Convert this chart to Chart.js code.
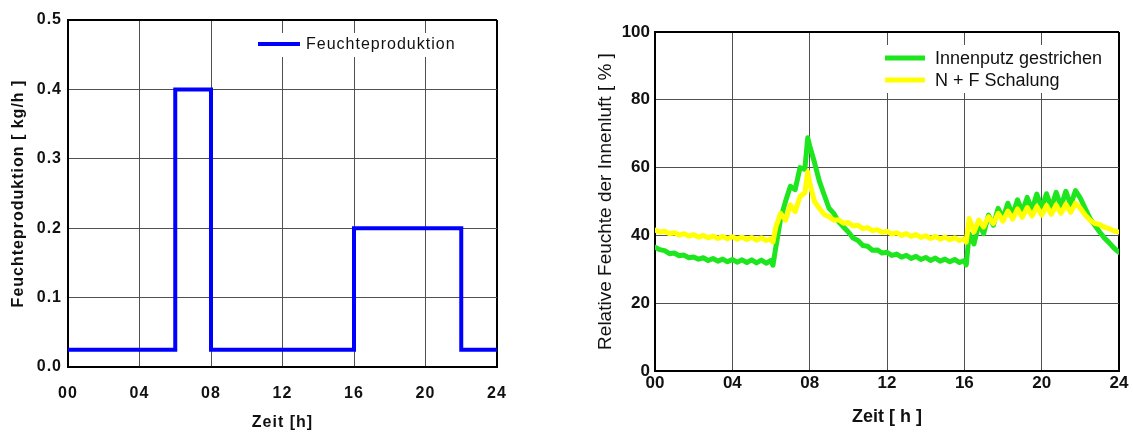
<!DOCTYPE html>
<html>
<head>
<meta charset="utf-8">
<script src="https://cdn.jsdelivr.net/npm/chart.js@4.4.1/dist/chart.umd.min.js"></script>
<style>
  body { margin: 0; background: #fff; }
  #wrap { position: relative; width: 1133px; height: 432px; }
  #leftChart { position: absolute; left: 0; top: 0; }
  #rightChart { position: absolute; left: 540px; top: 0; }
</style>
</head>
<body>
<div id="wrap">
  <canvas id="leftChart" width="540" height="432"></canvas>
  <canvas id="rightChart" width="593" height="432"></canvas>
</div>
<script>
// Feuchteproduktion (step profile)
const stepHours = [0, 6, 8, 16, 22, 24];
const production = [0.025, 0.4, 0.025, 0.2, 0.025, 0.025];

// Relative Feuchte der Innenluft
const hours = [
  0, 0.25, 0.5, 0.75, 1, 1.25, 1.5, 1.75, 2, 2.25, 2.5, 2.75, 3, 3.25, 3.5, 3.75,
  4, 4.25, 4.5, 4.75, 5, 5.25, 5.5, 5.75, 6, 6.1, 6.25, 6.5, 6.75, 7, 7.25, 7.5, 7.75, 7.9,
  8, 8.25, 8.5, 8.75, 9, 9.25, 9.5, 9.75, 10, 10.25, 10.5, 10.75, 11, 11.25, 11.5, 11.75,
  12, 12.25, 12.5, 12.75, 13, 13.25, 13.5, 13.75, 14, 14.25, 14.5, 14.75, 15, 15.25, 15.5, 15.75,
  16, 16.1, 16.25, 16.5, 16.75, 17, 17.25, 17.5, 17.75, 18, 18.25, 18.5, 18.75, 19, 19.25, 19.5, 19.75,
  20, 20.25, 20.5, 20.75, 21, 21.25, 21.5, 21.75, 22, 22.25, 22.5, 22.75, 23, 23.25, 23.5, 23.75, 24
];
const innenputz = [
  36.5, 35.8, 35.5, 34.6, 34.8, 34.0, 34.2, 33.4, 33.6, 33.0, 33.4, 32.6, 33.2, 32.4, 33.0, 32.2,
  32.9, 32.1, 32.8, 32.0, 32.8, 31.9, 32.7, 31.8, 32.6, 31.2, 36.5, 45.0, 50.0, 54.5, 53.5, 60.0, 59.5, 68.8,
  66.5, 61.5, 56.0, 52.0, 48.0, 46.5, 44.0, 42.5, 41.0, 39.2, 38.5, 37.0, 36.8, 35.6, 35.7, 34.8,
  35.0, 34.1, 34.5, 33.6, 34.1, 33.2, 33.8, 32.9, 33.5, 32.6, 33.3, 32.4, 33.0, 32.2, 32.9, 32.0,
  32.6, 31.3, 40.5, 37.5, 43.5, 40.5, 46.0, 43.0, 48.0, 45.0, 49.5, 46.0, 50.5, 47.0, 51.2, 47.5, 52.2,
  48.0, 52.3, 48.2, 52.7, 48.5, 53.0, 49.0, 53.2, 51.0, 48.0, 45.0, 43.0, 41.0, 39.2, 37.8, 36.2, 35.0
];
const schalung = [
  41.6, 41.0, 41.2, 40.5, 40.8, 40.1, 40.5, 39.8, 40.2, 39.5, 40.0, 39.3, 39.8, 39.1, 39.7, 39.0,
  39.6, 38.9, 39.5, 38.8, 39.4, 38.6, 39.3, 38.5, 39.0, 38.0, 42.5, 46.5, 44.5, 49.0, 47.0, 51.5, 52.5, 58.8,
  55.5, 50.0, 48.0, 46.2, 45.5, 44.5, 44.6, 43.6, 43.8, 42.8, 43.0, 42.0, 42.3, 41.4, 41.7, 40.9,
  41.2, 40.4, 40.8, 40.0, 40.5, 39.7, 40.2, 39.4, 39.9, 39.1, 39.7, 38.9, 39.5, 38.7, 39.3, 38.5,
  39.0, 38.0, 45.0, 41.0, 44.5, 42.5, 45.5, 43.5, 46.5, 44.2, 47.2, 44.8, 47.8, 45.3, 48.2, 45.7, 48.5,
  46.0, 48.8, 46.2, 49.0, 46.5, 49.2, 46.8, 49.5, 48.0, 46.0, 44.5, 43.5, 43.2, 42.4, 42.0, 41.3, 41.0
];

const FONT = "'Liberation Sans', Arial, sans-serif";
const GRID = '#505050';

const toPoints = (xs, ys) => xs.map((x, i) => ({ x: x, y: ys[i] }));
const hourLabel = v => String(v).padStart(2, '0');

// grid line black on the max edge (top / right frame)
const gridStyle = (max) => ({
  color: c => (c.tick && c.tick.value === max) ? '#000' : GRID,
  lineWidth: c => (c.tick && c.tick.value === max) ? 2 : 1,
  drawTicks: false
});

// simple in-plot legend with white background
const boxLegend = {
  id: 'boxLegend',
  afterDatasetsDraw(chart, args, opts) {
    const ctx = chart.ctx, a = chart.chartArea;
    ctx.save();
    ctx.font = opts.font;
    ctx.fillStyle = '#fff';
    ctx.fillRect(a.right - opts.box[0], a.top + opts.box[1], opts.box[2], opts.box[3]);
    opts.items.forEach((it, i) => {
      const ds = chart.data.datasets[it];
      const y = a.top + opts.y0 + i * opts.dy;
      const x = a.right - opts.x0;
      ctx.strokeStyle = ds.borderColor;
      ctx.lineWidth = opts.lineWidth;
      ctx.beginPath();
      ctx.moveTo(x, y);
      ctx.lineTo(x + opts.lineLen, y);
      ctx.stroke();
      ctx.fillStyle = '#111';
      ctx.textBaseline = 'middle';
      ctx.textAlign = 'left';
      ctx.fillText(ds.label, x + opts.lineLen + opts.gap, y + 1);
    });
    ctx.restore();
  }
};

const spacing = {
  id: 'spacing',
  beforeDraw(chart, args, opts) {
    chart.ctx.letterSpacing = opts.value || '0px';
  }
};

new Chart(document.getElementById('leftChart').getContext('2d'), {
  type: 'line',
  data: {
    datasets: [{
      label: 'Feuchteproduktion',
      data: toPoints(stepHours, production),
      borderColor: '#0000ff',
      borderWidth: 4,
      stepped: 'before',
      pointRadius: 0,
      fill: false
    }]
  },
  options: {
    responsive: false,
    devicePixelRatio: 1,
    animation: false,
    layout: { padding: { left: 0, top: 20, right: 43, bottom: 0 } },
    plugins: {
      legend: { display: false },
      tooltip: { enabled: false },
      spacing: { value: '1px' },
      boxLegend: {
        font: '16px ' + FONT, items: [0], box: [242, 13, 218, 24],
        x0: 239, y0: 24, dy: 0, lineLen: 42, gap: 6, lineWidth: 4
      }
    },
    scales: {
      x: {
        type: 'linear', min: 0, max: 24,
        grid: gridStyle(24),
        border: { color: '#000', width: 2 },
        ticks: { stepSize: 4, padding: 17, color: '#111', font: { family: FONT, size: 16, weight: 'bold' }, callback: hourLabel },
        title: { display: true, text: 'Zeit [h]', color: '#111', font: { family: FONT, size: 16, weight: 'bold' }, padding: { top: 0, bottom: 0 } },
        afterFit: s => { s.height = 65; }
      },
      y: {
        min: 0, max: 0.5,
        grid: gridStyle(0.5),
        border: { color: '#000', width: 2 },
        ticks: { stepSize: 0.1, padding: 6, color: '#111', font: { family: FONT, size: 16, weight: 'bold' }, callback: v => v.toFixed(1) },
        title: { display: true, text: 'Feuchteproduktion [ kg/h ]', color: '#111', font: { family: FONT, size: 16, weight: 'bold' }, padding: { top: 9, bottom: 0 } },
        afterFit: s => { s.width = 68; }
      }
    }
  },
  plugins: [spacing, boxLegend]
});

new Chart(document.getElementById('rightChart').getContext('2d'), {
  type: 'line',
  data: {
    datasets: [{
      label: 'Innenputz gestrichen',
      data: toPoints(hours, innenputz),
      borderColor: '#1ee61e',
      borderWidth: 5,
      borderJoinStyle: 'round',
      borderCapStyle: 'round',
      pointRadius: 0,
      tension: 0,
      order: 1
    }, {
      label: 'N + F Schalung',
      data: toPoints(hours, schalung),
      borderColor: '#ffff00',
      borderWidth: 5,
      borderJoinStyle: 'round',
      borderCapStyle: 'round',
      pointRadius: 0,
      tension: 0,
      order: 0
    }]
  },
  options: {
    responsive: false,
    devicePixelRatio: 1,
    animation: false,
    layout: { padding: { left: 0, top: 32, right: 14, bottom: 0 } },
    plugins: {
      legend: { display: false },
      tooltip: { enabled: false },
      boxLegend: {
        font: '18px ' + FONT, items: [0, 1], box: [239, 13, 236, 48],
        x0: 234, y0: 26, dy: 22, lineLen: 40, gap: 10, lineWidth: 5
      }
    },
    scales: {
      x: {
        type: 'linear', min: 0, max: 24,
        grid: gridStyle(24),
        border: { color: '#000', width: 2 },
        ticks: { stepSize: 4, padding: 2, color: '#111', font: { family: FONT, size: 17, weight: 'bold' }, callback: hourLabel },
        title: { display: true, text: 'Zeit [ h ]', color: '#111', font: { family: FONT, size: 18, weight: 'bold' }, padding: { top: 0, bottom: 4 } },
        afterFit: s => { s.height = 61; }
      },
      y: {
        min: 0, max: 100,
        grid: gridStyle(100),
        border: { color: '#000', width: 2 },
        ticks: { stepSize: 20, padding: 5, color: '#111', font: { family: FONT, size: 17, weight: 'bold' } },
        title: { display: true, text: 'Relative Feuchte der Innenluft [ % ]', color: '#111', font: { family: FONT, size: 19 }, padding: { top: 54, bottom: 0 } },
        afterFit: s => { s.width = 115; }
      }
    }
  },
  plugins: [boxLegend]
});
</script>
</body>
</html>
